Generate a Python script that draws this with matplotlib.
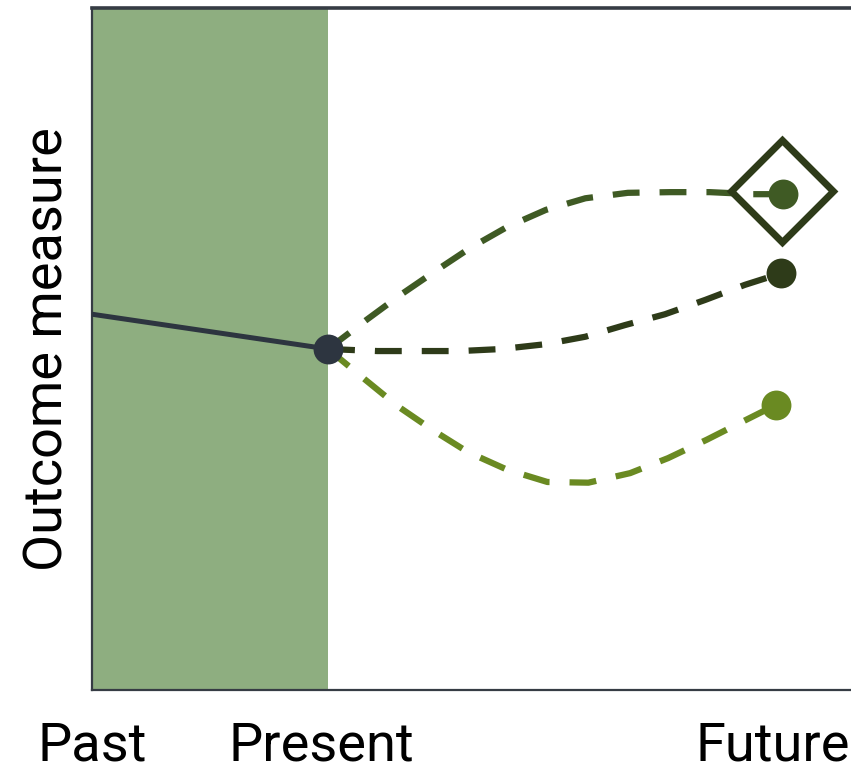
import matplotlib

matplotlib.use("Agg")
import matplotlib.pyplot as plt

# --- data (x: 0..100 time axis, y: 0..100 outcome) ---------------------------
past_x = [0.0, 31.1]
past_y = [55.1, 50.0]

top_x = [31.1, 36.2, 40.6, 45.2, 49.8, 54.7, 59.8, 65.0, 70.6, 76.2, 81.4, 87.1, 91.0]
top_y = [50.0, 54.3, 57.9, 61.4, 64.8, 67.9, 70.4, 72.1, 72.9, 73.0, 73.0, 72.7, 72.7]

mid_x = [31.1, 37.6, 43.0, 48.5, 54.0, 59.7, 65.0, 70.2, 75.5, 80.8, 86.0, 90.8]
mid_y = [50.0, 49.7, 49.7, 49.7, 50.0, 50.7, 51.8, 53.5, 55.1, 57.2, 59.4, 61.1]

low_x = [31.1, 36.0, 40.3, 44.9, 49.5, 54.7, 60.0, 65.4, 70.9, 75.9, 81.0, 85.8, 90.1]
low_y = [50.0, 45.5, 41.6, 38.1, 34.9, 32.3, 30.5, 30.4, 31.8, 34.0, 36.7, 39.4, 41.8]

best_x, best_y = 90.9, 73.2
present_span = (0.0, 31.1)

tick_pos = [0.0, 30.2, 89.7]
tick_labels = ["Past", "Present", "Future"]

TOP_COLOR = "#3f5a24"
MID_COLOR = "#2e3b19"
LOW_COLOR = "#6a8a22"
PAST_COLOR = "#2d3540"
SPAN_COLOR = "#8eae80"
SPINE_COLOR = "#363c44"

plt.rcParams["font.family"] = ["Roboto", "DejaVu Sans"]

fig = plt.figure(figsize=(8.51, 7.74), dpi=100)
ax = fig.add_axes([92 / 851, 84 / 774, 759 / 851, 682 / 774])
ax.set_xlim(0, 100)
ax.set_ylim(0, 100)

ax.axvspan(*present_span, color=SPAN_COLOR, lw=0, zorder=0)

dash = (0, (4.3, 3.2))
ax.plot(top_x, top_y, color=TOP_COLOR, lw=4.5, ls=dash, zorder=2)
ax.plot(mid_x, mid_y, color=MID_COLOR, lw=4.5, ls=dash, zorder=2)
ax.plot(low_x, low_y, color=LOW_COLOR, lw=4.5, ls=dash, zorder=2)

ax.plot(past_x, past_y, color=PAST_COLOR, lw=3.6, solid_capstyle="butt", zorder=3)
ax.plot(past_x[-1], past_y[-1], "o", color=PAST_COLOR, ms=21.5, mew=0, zorder=4)

ax.plot(top_x[-1], top_y[-1], "o", color=TOP_COLOR, ms=21.5, mew=0, zorder=4)
ax.plot(mid_x[-1], mid_y[-1], "o", color=MID_COLOR, ms=21.5, mew=0, zorder=4)
ax.plot(low_x[-1], low_y[-1], "o", color=LOW_COLOR, ms=21.5, mew=0, zorder=4)

ax.plot(best_x, best_y, "D", mfc="none", mec=MID_COLOR, mew=5.0, ms=52, zorder=5)

ax.set_xticks(tick_pos)
ax.set_xticklabels(tick_labels, fontsize=39)
ax.set_yticks([])
ax.tick_params(axis="x", length=0, pad=22)
ax.set_ylabel("Outcome measure", fontsize=39, labelpad=13)

ax.spines["right"].set_visible(False)
for side, lw in [("top", 2.6), ("left", 1.6), ("bottom", 1.6)]:
    ax.spines[side].set_color(SPINE_COLOR)
    ax.spines[side].set_linewidth(lw)

fig.savefig("out.png", dpi=100)
